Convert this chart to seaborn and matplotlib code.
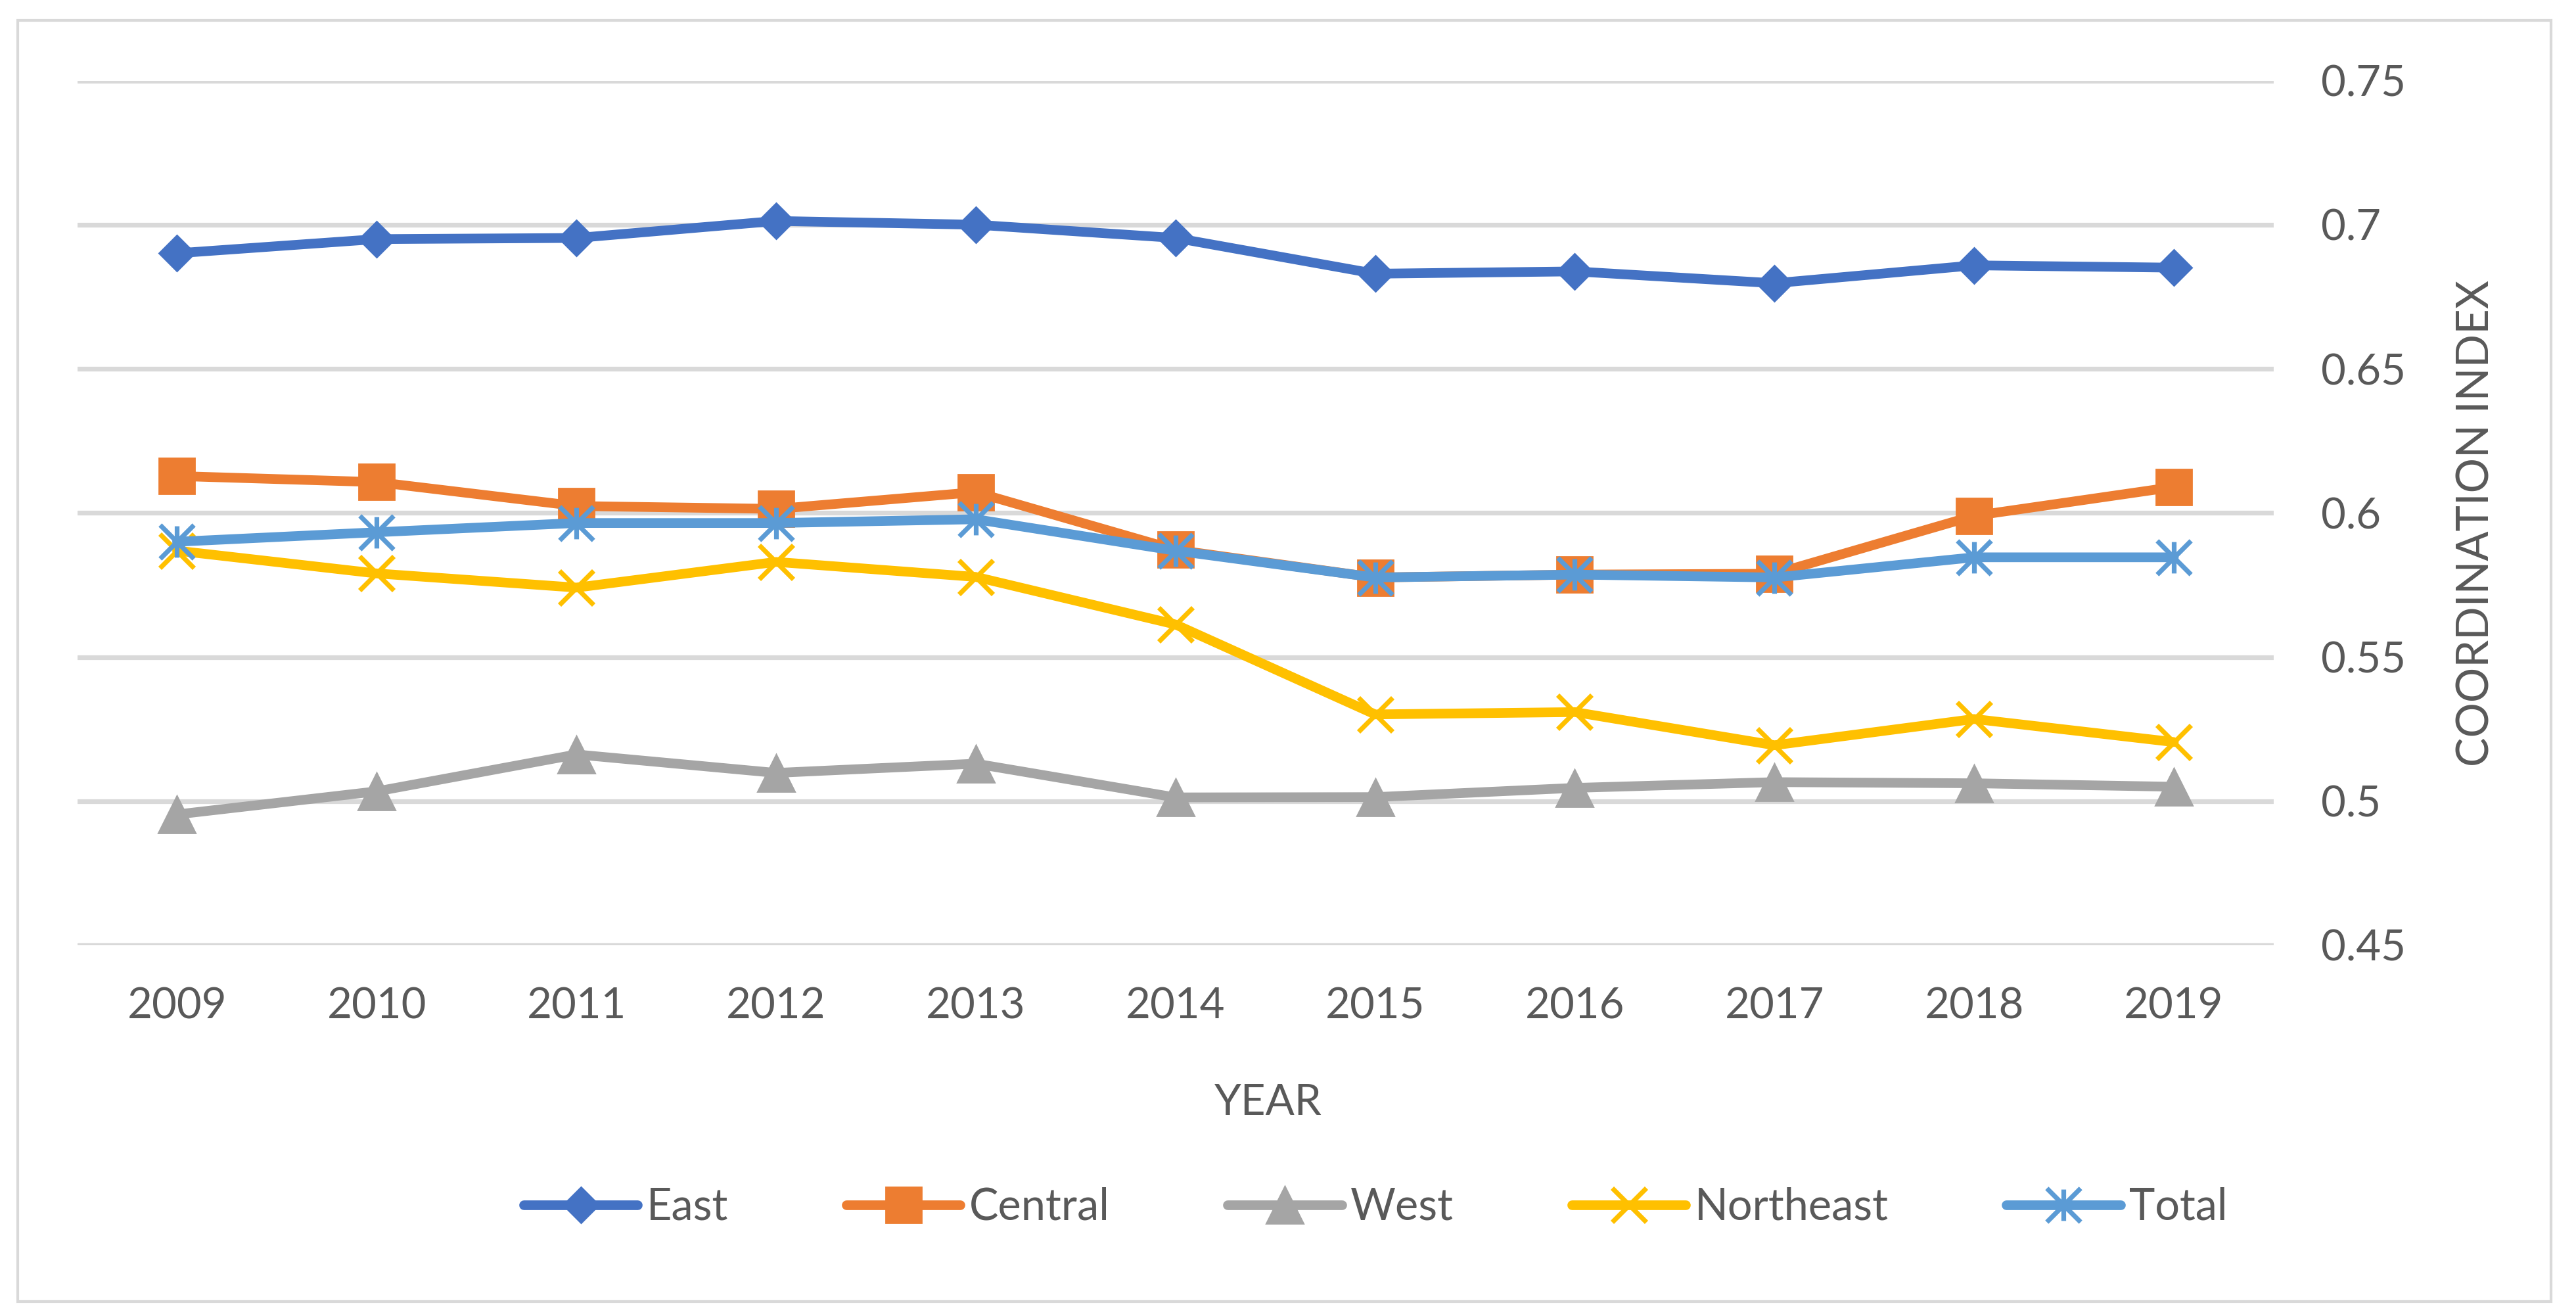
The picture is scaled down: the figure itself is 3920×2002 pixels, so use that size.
import pandas as pd
import matplotlib.pyplot as plt
import seaborn as sns
from matplotlib.path import Path
from matplotlib.patches import Rectangle

sns.set_theme(style="white")
plt.rcParams['font.family'] = ['Lato', 'DejaVu Sans']

# valori
years = [2009, 2010, 2011, 2012, 2013, 2014, 2015, 2016, 2017, 2018, 2019]
east = [0.6901, 0.6950, 0.6954, 0.7013, 0.7000, 0.6954, 0.6830, 0.6838, 0.6797, 0.6859, 0.6851]
central = [0.6128, 0.6107, 0.6024, 0.6014, 0.6072, 0.5872, 0.5776, 0.5786, 0.5789, 0.5990, 0.6090]
west = [0.4954, 0.5034, 0.5162, 0.5098, 0.5130, 0.5013, 0.5014, 0.5046, 0.5066, 0.5062, 0.5050]
northeast = [0.5869, 0.5790, 0.5741, 0.5830, 0.5778, 0.5613, 0.5301, 0.5309, 0.5194, 0.5285, 0.5205]
total = [0.5900, 0.5933, 0.5965, 0.5965, 0.5978, 0.5869, 0.5776, 0.5786, 0.5776, 0.5846, 0.5846]

regions = ["East", "Central", "West", "Northeast", "Total"]
y_ticks = [0.45, 0.5, 0.55, 0.6, 0.65, 0.7, 0.75]
y_ticklabels = ["0.45", "0.5", "0.55", "0.6", "0.65", "0.7", "0.75"]

colori = {
    "East": "#4472C4",
    "Central": "#ED7D31",
    "West": "#A5A5A5",
    "Northeast": "#FFC000",
    "Total": "#5B9BD5",
}

# asterisco stile Excel: X + linea verticale
star = Path([(0, -0.93), (0, 0.93), (-1, -1), (1, 1), (-1, 1), (1, -1)],
            [Path.MOVETO, Path.LINETO] * 3)

stili = {
    "East": dict(marker="D", markersize=14, markeredgewidth=1),
    "Central": dict(marker="s", markersize=19.5, markeredgewidth=1),
    "West": dict(marker="^", markersize=20, markeredgewidth=1),
    "Northeast": dict(marker="x", markersize=18.5, markeredgewidth=2.6),
    "Total": dict(marker=star, markersize=18.5, markeredgewidth=2.6),
}

df = pd.DataFrame({"Year": years, "East": east, "Central": central, "West": west,
                   "Northeast": northeast, "Total": total})
df = df.melt(id_vars="Year", var_name="Region", value_name="Index")

testo = "#595959"
W, H = 3920, 2002
fig = plt.figure(figsize=(W / 200, H / 200), dpi=200)
left, right, top, bottom = 117.5, 3460, 122.6, 1438
ax = fig.add_axes([left / W, 1 - bottom / H, (right - left) / W, (bottom - top) / H])

for reg in regions:
    sns.lineplot(data=df[df["Region"] == reg], x="Year", y="Index", ax=ax,
                 color=colori[reg], linewidth=5.3, label=reg, errorbar=None,
                 markeredgecolor=colori[reg], solid_capstyle="round",
                 solid_joinstyle="round", **stili[reg])

ax.set_xlim(2008.5, 2019.5)
ax.set_ylim(0.45, 0.75)
ax.set_xticks(years)
ax.set_xticklabels([str(y) for y in years])
ax.set_yticks(y_ticks)
ax.set_yticklabels(y_ticklabels)
ax.yaxis.tick_right()
ax.yaxis.set_label_position("right")
ax.tick_params(axis="both", length=0, labelsize=23.5, labelcolor=testo)
ax.tick_params(axis="y", pad=26)
ax.tick_params(axis="x", pad=23)

ax.grid(False)
ax.yaxis.grid(True, color="#D9D9D9", linewidth=2.6)
for s in ax.spines.values():
    s.set_visible(False)

ax.set_xlabel("YEAR", fontsize=23.5, color=testo, va="center")
ax.xaxis.set_label_coords(0.5423, -0.1824)
ax.set_ylabel("COORDINATION INDEX", fontsize=24, color=testo, va="center", ha="center")
ax.yaxis.set_label_coords((3768 - left) / (right - left), (bottom - 795.6) / (bottom - top))

ax.legend(loc="center", bbox_to_anchor=(0.534, 1 - 1837 / H), bbox_transform=fig.transFigure,
          ncol=5, frameon=False, fontsize=24, labelcolor=testo, handlelength=2.6,
          handletextpad=0.2, columnspacing=2.7)

# bordo esterno del grafico
fig.add_artist(Rectangle((27 / W, 1 - 1980 / H), (3882 - 27) / W, (1980 - 31) / H,
                         transform=fig.transFigure, fill=False, edgecolor="#D9D9D9",
                         linewidth=1.5))

fig.savefig("out.png", dpi=200)
plt.close()
